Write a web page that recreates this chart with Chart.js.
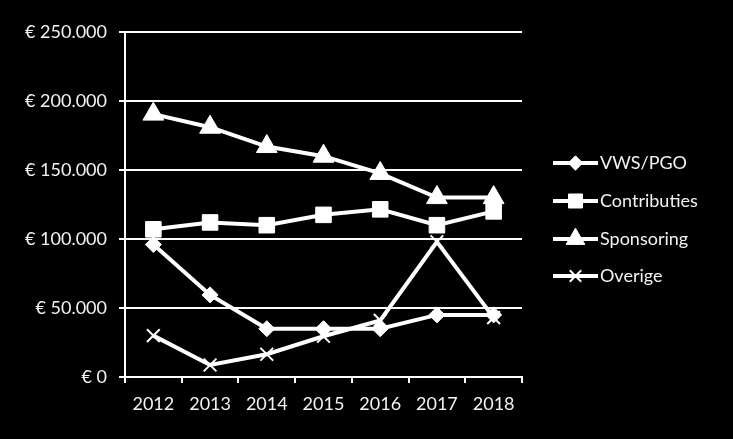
<!DOCTYPE html>
<html>
<head>
<meta charset="utf-8">
<script src="https://cdn.jsdelivr.net/npm/chart.js@4.4.0/dist/chart.umd.min.js"></script>
<style>
html,body{margin:0;padding:0;background:#000;}
#wrap{width:733px;height:439px;position:relative;}
</style>
</head>
<body>
<div id="wrap"><canvas id="c" width="733" height="439"></canvas></div>
<script>
const categories = ['2012','2013','2014','2015','2016','2017','2018'];
const vwsPgo      = [96000, 59500, 35000, 35000, 35000, 45000, 45000];
const contributies= [107000,112000,110000,117500,121500,110000,120000];
const sponsoring  = [190500,181000,167000,160000,147500,130000,130000];
const overige     = [30000, 8700, 16500, 29500, 41000, 98000, 43000];
const seriesLabels = ['VWS/PGO','Contributies','Sponsoring','Overige'];
const yTicks = [0,50000,100000,150000,200000,250000];

const FONT = 'Lato';
const WHITE = '#ffffff';
const TEXT = '#f2f2f2';

function fmtEuro(v){
  if (v === 0) return '€ 0';
  return '€ ' + v.toLocaleString('de-DE');
}

const styles = [
  {pointStyle:'rectRot', radius:8},
  {pointStyle:'rect', radius:11},
  {pointStyle:'triangle', radius:12},
  {pointStyle:'crossRot', radius:9}
];
const dataArrays = [vwsPgo, contributies, sponsoring, overige];

const datasets = seriesLabels.map((lab,i)=>({
  label: lab,
  data: dataArrays[i],
  borderColor: WHITE,
  backgroundColor: WHITE,
  borderWidth: 4,
  pointStyle: styles[i].pointStyle,
  pointRadius: styles[i].radius,
  pointHoverRadius: styles[i].radius,
  pointBorderWidth: i===3 ? 2 : 1,
  pointBorderColor: WHITE,
  pointBackgroundColor: WHITE,
  tension: 0,
  fill: false
}));

const bgPlugin = {
  id:'bg',
  beforeDraw(chart){
    const ctx = chart.ctx;
    ctx.save();
    ctx.fillStyle = '#000';
    ctx.fillRect(0,0,chart.width,chart.height);
    ctx.restore();
  }
};

const legendPlugin = {
  id:'customLegend',
  afterDraw(chart){
    const ctx = chart.ctx;
    const x0 = 553, x1 = 598, ys = [163, 201, 239, 276];
    chart.data.datasets.forEach((ds,i)=>{
      const y = ys[i];
      ctx.save();
      ctx.strokeStyle = WHITE;
      ctx.lineWidth = 4;
      ctx.beginPath();
      ctx.moveTo(x0,y); ctx.lineTo(x1,y); ctx.stroke();
      ctx.fillStyle = WHITE;
      ctx.lineWidth = i===3 ? 2 : 1;
      Chart.helpers.drawPoint(ctx, {pointStyle: ds.pointStyle, radius: ds.pointRadius*0.9, borderWidth: ctx.lineWidth}, (x0+x1)/2, y);
      ctx.fillStyle = TEXT;
      ctx.font = '18px ' + FONT;
      ctx.textBaseline = 'middle';
      ctx.textAlign = 'left';
      ctx.fillText(ds.label, x1 + 2, y);
      ctx.restore();
    });
  }
};

new Chart(document.getElementById('c'), {
  type:'line',
  data:{labels:categories, datasets},
  options:{
    responsive:false,
    animation:false,
    devicePixelRatio:1,
    layout:{padding:{left:0, right:211, top:32, bottom:0}},
    plugins:{legend:{display:false}, tooltip:{enabled:false}},
    scales:{
      x:{
        offset:true,
        grid:{display:true, offset:true, drawOnChartArea:false, drawTicks:true, tickLength:6, color:WHITE, lineWidth:2},
        border:{display:true, color:WHITE, width:2},
        ticks:{color:TEXT, font:{family:FONT, size:18}, padding:10, maxRotation:0},
        afterFit(s){ s.height = 62; }
      },
      y:{
        min:0, max:250000,
        afterBuildTicks(s){ s.ticks = yTicks.map(v=>({value:v})); },
        grid:{color:WHITE, lineWidth:2, drawTicks:true, tickLength:6},
        border:{display:true, color:WHITE, width:2},
        ticks:{color:TEXT, font:{family:FONT, size:18}, padding:12, callback:(v)=>fmtEuro(v)},
        afterFit(s){ s.width = 125; }
      }
    }
  },
  plugins:[bgPlugin, legendPlugin]
});
</script>
</body>
</html>
